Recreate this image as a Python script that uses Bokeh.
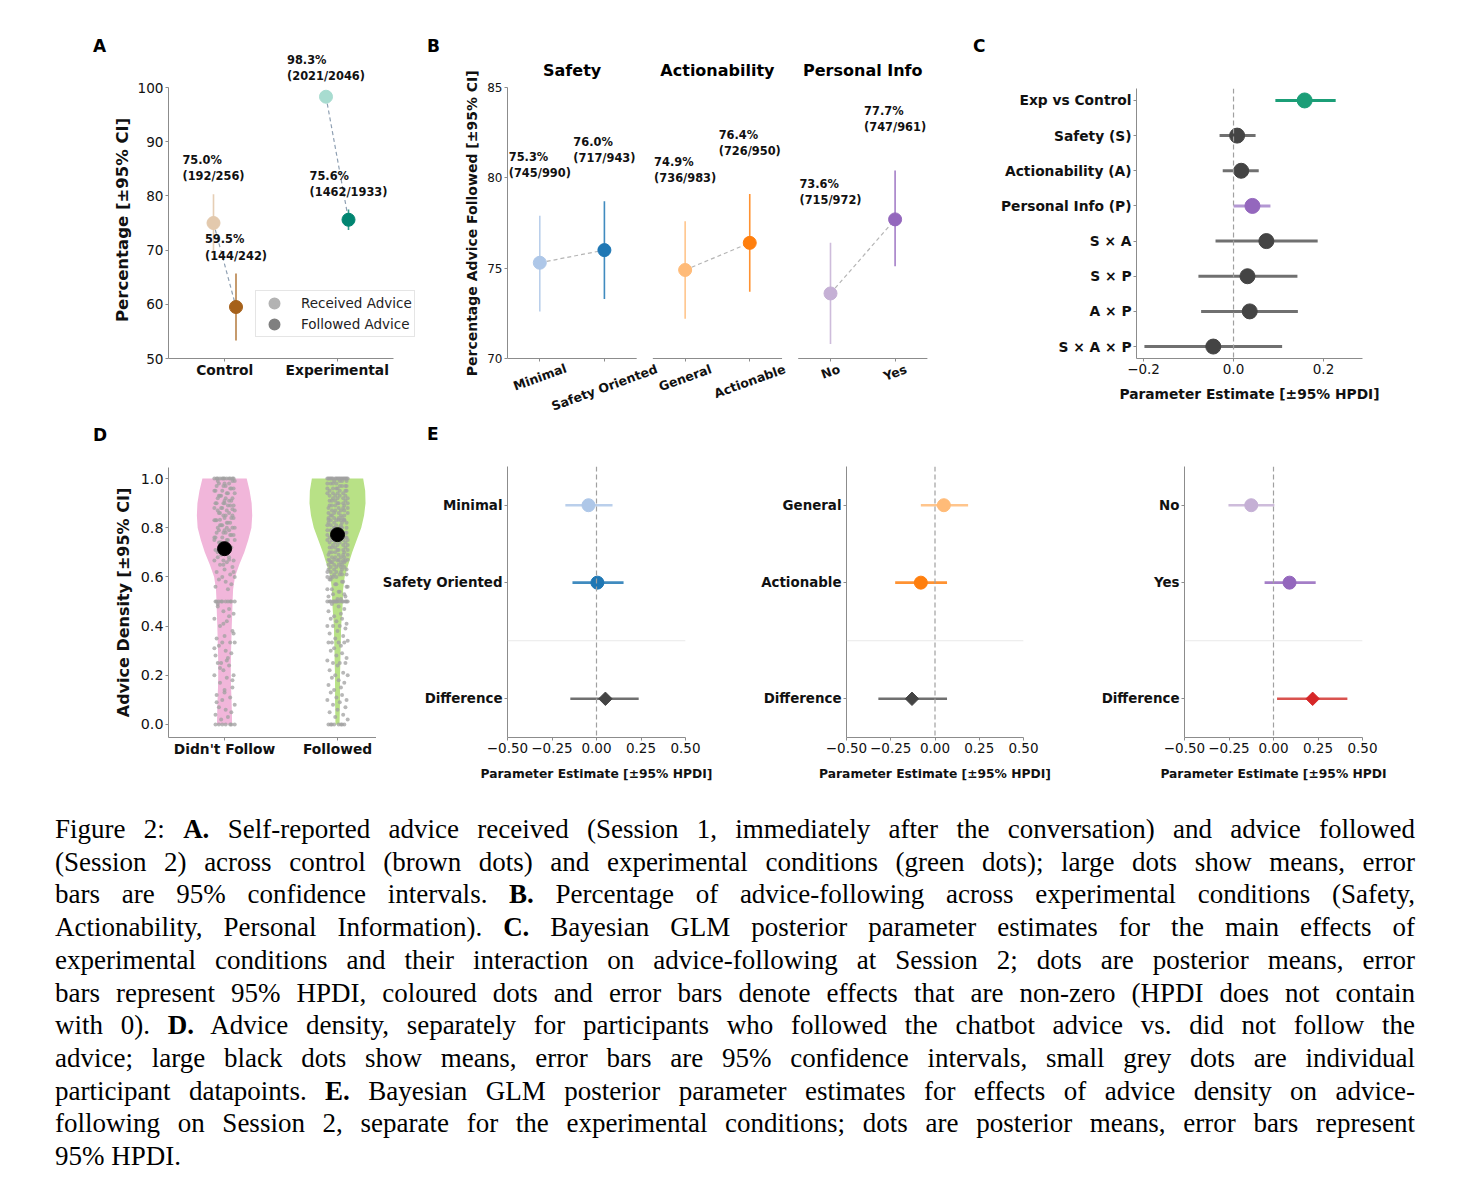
import math
from bokeh.plotting import figure
from bokeh.models import (ColumnDataSource, LabelSet, Label, Span, FixedTicker,
                          Legend, LegendItem, Div, Spacer, Range1d)
from bokeh.core.properties import value
from bokeh.layouts import column, row
from bokeh.embed import file_html
from bokeh.resources import INLINE

# ------------------------------------------------------------------ data
# Panel A
a_conditions = ["Control", "Experimental"]
a_received_pct = [75.0, 98.3]
a_received_lo = [69.7, 97.7]
a_received_hi = [80.3, 98.9]
a_received_n = ["192/256", "2021/2046"]
a_followed_pct = [59.5, 75.6]
a_followed_lo = [53.3, 73.7]
a_followed_hi = [65.7, 77.5]
a_followed_n = ["144/242", "1462/1933"]
a_yticks = [50, 60, 70, 80, 90, 100]
a_legend = ["Received Advice", "Followed Advice"]

# Panel B
b_factors = ["Safety", "Actionability", "Personal Info"]
b_levels = [["Minimal", "Safety Oriented"], ["General", "Actionable"], ["No", "Yes"]]
b_pct = [[75.3, 76.0], [74.9, 76.4], [73.6, 77.7]]
b_lo = [[72.6, 73.3], [72.2, 73.7], [70.8, 75.1]]
b_hi = [[77.9, 78.7], [77.6, 79.1], [76.4, 80.4]]
b_n = [["745/990", "717/943"], ["736/983", "726/950"], ["715/972", "747/961"]]
b_yticks = [70, 75, 80, 85]

# Panel C
c_terms = ["Exp vs Control", "Safety (S)", "Actionability (A)", "Personal Info (P)",
           "S × A", "S × P", "A × P", "S × A × P"]
c_mean = [0.158, 0.008, 0.017, 0.042, 0.073, 0.031, 0.036, -0.045]
c_lo = [0.093, -0.031, -0.024, 0.000, -0.040, -0.078, -0.072, -0.198]
c_hi = [0.227, 0.049, 0.056, 0.082, 0.187, 0.142, 0.143, 0.108]
c_xticks = [-0.2, 0.0, 0.2]

# Panel D
d_groups = ["Didn't Follow", "Followed"]
d_means = [0.715, 0.772]
d_levels = [0.0, 0.05, 0.1, 0.15, 0.2, 0.25, 0.3, 0.35, 0.4, 0.45, 0.5,
            0.55, 0.6, 0.65, 0.7, 0.75, 0.8, 0.85, 0.9, 0.95, 1.0]
d_halfwidth_didnt = [0.067, 0.065, 0.062, 0.058, 0.056, 0.056, 0.058, 0.061, 0.064, 0.068, 0.071,
                     0.076, 0.092, 0.13, 0.175, 0.21, 0.238, 0.245, 0.24, 0.222, 0.196]
d_halfwidth_followed = [0.018, 0.02, 0.022, 0.022, 0.022, 0.025, 0.027, 0.03, 0.032, 0.04, 0.047,
                        0.05, 0.063, 0.095, 0.13, 0.17, 0.21, 0.235, 0.248, 0.245, 0.227]
d_points_didnt = (
    [1.0] * 12
    + [0.99, 0.98, 0.97, 0.96, 0.95, 0.94, 0.93, 0.92, 0.91, 0.90, 0.89, 0.88, 0.87,
       0.86, 0.85, 0.84, 0.83, 0.82, 0.81, 0.80, 0.79, 0.78, 0.77, 0.76, 0.75, 0.74] * 3
    + [0.73, 0.72, 0.71, 0.70, 0.69, 0.68, 0.67, 0.667, 0.667, 0.667, 0.66, 0.65, 0.64,
       0.63, 0.62, 0.61, 0.60, 0.60, 0.59, 0.58, 0.57, 0.56, 0.55, 0.72, 0.70, 0.68, 0.65, 0.62]
    + [0.75, 0.8, 0.833, 0.875, 0.9]
    + [0.5] * 10
    + [0.49, 0.47, 0.46, 0.45, 0.43, 0.42, 0.40, 0.38, 0.36, 0.35, 0.333, 0.333, 0.333,
       0.32, 0.30, 0.29, 0.28, 0.27, 0.25, 0.25, 0.24, 0.22, 0.20, 0.20, 0.19, 0.17,
       0.15, 0.14, 0.12, 0.11, 0.10, 0.08, 0.07, 0.06, 0.05, 0.04, 0.03, 0.02,
       0.48, 0.44, 0.41, 0.37, 0.31, 0.26, 0.23, 0.18, 0.13, 0.09]
    + [0.0] * 7
)
d_points_followed = (
    [1.0] * 18
    + [0.99, 0.98, 0.97, 0.96, 0.95, 0.94, 0.93, 0.92, 0.91, 0.90, 0.89, 0.88, 0.87, 0.86,
       0.85, 0.84, 0.83, 0.82, 0.81, 0.80, 0.79, 0.78, 0.77, 0.76, 0.75, 0.74, 0.73, 0.72,
       0.71, 0.70, 0.69, 0.68, 0.67, 0.66, 0.65, 0.64, 0.63, 0.62, 0.61, 0.60] * 4
    + [0.667] * 4 + [0.75] * 3 + [0.833] * 3 + [0.8] * 2
    + [0.59, 0.58, 0.57, 0.56, 0.55, 0.54, 0.53, 0.52, 0.51] * 2
    + [0.5] * 14
    + [0.49, 0.48, 0.47, 0.46, 0.45, 0.44, 0.43, 0.43, 0.42, 0.41, 0.40, 0.40, 0.40, 0.39,
       0.38, 0.37, 0.36, 0.35, 0.34, 0.333, 0.333, 0.333, 0.333, 0.32, 0.31, 0.30, 0.29,
       0.28, 0.27, 0.26, 0.25, 0.25, 0.25, 0.24, 0.22, 0.21, 0.20, 0.20, 0.19, 0.18, 0.17,
       0.16, 0.15, 0.14, 0.13, 0.12, 0.11, 0.10, 0.10, 0.09, 0.08, 0.07, 0.06, 0.05, 0.04,
       0.03, 0.02]
    + [0.0] * 8
)
d_yticks = [0.0, 0.2, 0.4, 0.6, 0.8, 1.0]

# Panel E
e_levels = [["Minimal", "Safety Oriented"], ["General", "Actionable"], ["No", "Yes"]]
e_mean = [[-0.045, 0.005], [0.05, -0.08], [-0.125, 0.09]]
e_lo = [[-0.175, -0.135], [-0.08, -0.225], [-0.253, -0.05]]
e_hi = [[0.09, 0.152], [0.187, 0.068], [0.005, 0.237]]
e_diff_label = "Difference"
e_diff_mean = [0.05, -0.13, 0.22]
e_diff_lo = [-0.147, -0.32, 0.02]
e_diff_hi = [0.237, 0.068, 0.415]
e_xticks = [-0.5, -0.25, 0.0, 0.25, 0.5]
e_xlabels = ["Parameter Estimate [±95% HPDI]", "Parameter Estimate [±95% HPDI]",
             "Parameter Estimate [±95% HPDI"]

panel_letters = ["A", "B", "C", "D", "E"]

caption_lines = [
    "Figure 2: <b>A.</b> Self-reported advice received (Session 1, immediately after the conversation) and advice followed",
    "(Session 2) across control (brown dots) and experimental conditions (green dots); large dots show means, error",
    "bars are 95% confidence intervals. <b>B.</b> Percentage of advice-following across experimental conditions (Safety,",
    "Actionability, Personal Information). <b>C.</b> Bayesian GLM posterior parameter estimates for the main effects of",
    "experimental conditions and their interaction on advice-following at Session 2; dots are posterior means, error",
    "bars represent 95% HPDI, coloured dots and error bars denote effects that are non-zero (HPDI does not contain",
    "with 0). <b>D.</b> Advice density, separately for participants who followed the chatbot advice vs. did not follow the",
    "advice; large black dots show means, error bars are 95% confidence intervals, small grey dots are individual",
    "participant datapoints. <b>E.</b> Bayesian GLM posterior parameter estimates for effects of advice density on advice-",
    "following on Session 2, separate for the experimental conditions; dots are posterior means, error bars represent",
    "95% HPDI.",
]

# ------------------------------------------------------------------ style
FONT = "DejaVu Sans"
AXC = "#8c8c8c"
TC = "#111111"
a_rec_colors = ["#e3c9ad", "#a8dcd0"]
a_fol_colors = ["#a6611a", "#018571"]
b_colors = [["#aec7e8", "#1f77b4"], ["#ffbb78", "#ff7f0e"], ["#c5b0d5", "#9467bd"]]
c_dot_colors = ["#1b9e77", "#444444", "#444444", "#9467bd", "#444444", "#444444", "#444444", "#444444"]
c_line_colors = ["#1b9e77", "#707070", "#707070", "#b397d3", "#707070", "#707070", "#707070", "#707070"]
e_diff_colors = ["#444444", "#444444", "#d62728"]
e_diff_line_colors = ["#707070", "#707070", "#d9534f"]
d_violin_colors = ["#f1b6da", "#b8e186"]
d_jitter = [-0.06, 0.04, -0.01, 0.08, -0.09, 0.02, -0.04, 0.07, 0.0, -0.07,
            0.05, -0.02, 0.09, -0.05, 0.01, 0.06, -0.08, 0.03, -0.03]

BOLD_W = {"M": .995, "i": .343, "n": .712, "a": .675, "l": .343, "S": .72, "f": .435,
          "e": .678, "t": .478, "y": .652, " ": .348, "O": .85, "r": .493, "d": .716,
          "G": .822, "c": .593, "o": .687, "b": .716, "A": .774, "N": .837, "Y": .724,
          "s": .595}
SPACE_EM = 0.348
NBSP = "\u00a0"


def minus(s):
    return s.replace("-", "\u2212")


def centred_label(text, font_px, shift_px):
    """Pad a vertical axis label so that it centres on the drawn spine rather than the
    (taller) frame: positive shift moves the text down, negative moves it up."""
    n = int(round(2 * abs(shift_px) / (SPACE_EM * font_px)))
    return text + NBSP * n if shift_px > 0 else NBSP * n + text


def base_fig(w, h, xr, yr, l, r, t, b):
    p = figure(width=w, height=h, x_range=xr, y_range=yr, output_backend="svg",
               toolbar_location=None, title=None, min_border_left=l, min_border_right=r,
               min_border_top=t, min_border_bottom=b)
    p.outline_line_color = None
    p.xgrid.visible = False
    p.ygrid.visible = False
    p.background_fill_color = "white"
    p.border_fill_color = "white"
    for ax in p.axis:
        ax.axis_line_color = AXC
        ax.axis_line_width = 1
        ax.major_tick_line_color = AXC
        ax.major_tick_out = 3
        ax.major_tick_in = 0
        ax.minor_tick_line_color = None
        ax.major_label_text_font = FONT
        ax.major_label_text_color = TC
        ax.major_label_standoff = 2
        ax.axis_label_text_font = FONT
        ax.axis_label_text_font_style = "bold"
        ax.axis_label_text_color = TC
    return p


def header(width, height, letter, left, top):
    html = (f'<div style="position:relative;width:{width}px;height:{height}px;">'
            f'<span style="position:absolute;left:{left}px;top:{top}px;font-family:\'DejaVu Sans\';'
            f'font-weight:bold;font-size:17px;line-height:17px;color:#000;">{letter}</span></div>')
    return Div(text=html, width=width, height=height, margin=0)


def value_labels(p, xs, ys, texts):
    src = ColumnDataSource(dict(x=xs, y=ys, text=texts))
    p.add_layout(LabelSet(x="x", y="y", text="text", source=src, text_align="center",
                          text_baseline="bottom", text_font=value(FONT), text_font_size="11.4px",
                          text_font_style="bold", text_color=TC, text_line_height=1.15))


HDR1 = 44   # page y 8 -> 52
HDR2 = 24   # page y 420 -> 444
ROW1_FIG_H = 412 - HDR1
ROW2_FIG_H = 370 - HDR2

# ------------------------------------------------------------------ panel A
A_PPU_Y = 271 / 50.0
A_PPU_X = 112.5
A_TOP_EXTRA = 35      # frame reaches 35 px above the 100 line
pA = base_fig(417, ROW1_FIG_H, Range1d(-0.5, -0.5 + 257 / A_PPU_X),
              Range1d(50, 100 + A_TOP_EXTRA / A_PPU_Y), 160, 0, 0, 62)
pA.yaxis.ticker = FixedTicker(ticks=a_yticks)
pA.yaxis.bounds = (a_yticks[0], a_yticks[-1])
pA.yaxis.major_label_text_font_size = "13.6px"
pA.yaxis.axis_label = centred_label("Percentage [±95% CI]", 16.5, A_TOP_EXTRA / 2 - 3)
pA.yaxis.axis_label_text_font_size = "16.5px"
pA.yaxis.axis_label_standoff = 3
xi = list(range(len(a_conditions)))
pA.xaxis.ticker = FixedTicker(ticks=xi)
pA.xaxis.bounds = (-0.5, len(a_conditions) - 0.5)
pA.xaxis.major_label_overrides = {i: c for i, c in zip(xi, a_conditions)}
pA.xaxis.major_label_text_font_size = "13.8px"
pA.xaxis.major_label_text_font_style = "bold"
pA.xaxis.major_label_standoff = 0

x_rec = [i - 0.1 for i in xi]
x_fol = [i + 0.1 for i in xi]
pA.segment(x_rec, a_received_lo, x_rec, a_received_hi, line_color=a_rec_colors, line_width=1.6, line_alpha=0.9)
pA.segment(x_fol, a_followed_lo, x_fol, a_followed_hi, line_color=a_fol_colors, line_width=1.6, line_alpha=0.8)
pA.segment(x_rec, a_received_pct, x_fol, a_followed_pct, line_color="#8e9fb2", line_dash="4 3", line_width=1.2)
pA.scatter(x_rec, a_received_pct, size=13, color=a_rec_colors)
pA.scatter(x_fol, a_followed_pct, size=13, color=a_fol_colors)
value_labels(pA, x_rec + x_fol, [h + 2 for h in a_received_hi + a_followed_hi],
             [f"{v:.1f}%\n({n})" for v, n in zip(a_received_pct + a_followed_pct, a_received_n + a_followed_n)])
# legend swatches (no data points of their own)
r1 = pA.scatter([math.nan], [math.nan], size=8, fill_color="#b3b3b3", line_color="#b3b3b3", line_width=4)
r2 = pA.scatter([math.nan], [math.nan], size=8, fill_color="#808080", line_color="#808080", line_width=4)
legA = Legend(items=[LegendItem(label=a_legend[0], renderers=[r1]),
                     LegendItem(label=a_legend[1], renderers=[r2])],
              location=(87, 21), orientation="vertical")
legA.label_text_font = FONT
legA.label_text_font_size = "13.5px"
legA.label_text_color = "#222222"
legA.border_line_color = "#cccccc"
legA.border_line_width = 1
legA.background_fill_alpha = 0.85
legA.padding = 2
legA.margin = 0
legA.glyph_width = 32
legA.glyph_height = 20
legA.label_height = 20
legA.spacing = 1
legA.label_standoff = 11
pA.add_layout(legA)

# ------------------------------------------------------------------ panel B
gap = 2.25
B_PPU_Y = 271 / 15.0
B_PPU_X = 64.6
B_TOP_EXTRA = 29
B_BOTTOM_EXTRA = 54
b_x = [[g * gap + k for k in range(2)] for g in range(len(b_factors))]
pB = base_fig(535, ROW1_FIG_H, Range1d(-0.5, -0.5 + 453 / B_PPU_X),
              Range1d(b_yticks[0] - B_BOTTOM_EXTRA / B_PPU_Y, b_yticks[-1] + B_TOP_EXTRA / B_PPU_Y),
              82, 0, 6, 8)
pB.yaxis.ticker = FixedTicker(ticks=b_yticks)
pB.yaxis.bounds = (b_yticks[0], b_yticks[-1])
pB.yaxis.major_label_text_font_size = "12px"
pB.yaxis.axis_label = centred_label("Percentage Advice Followed [±95% CI]", 14,
                                    (B_TOP_EXTRA - B_BOTTOM_EXTRA) / 2)
pB.yaxis.axis_label_text_font_size = "14px"
pB.yaxis.axis_label_standoff = 4
flat_bx = [x for g in b_x for x in g]
pB.xaxis.ticker = FixedTicker(ticks=flat_bx)
pB.xaxis.fixed_location = b_yticks[0]
pB.xaxis.axis_line_color = None
pB.xaxis.major_label_text_color = None
pB.xaxis.major_label_standoff = 0
pB.segment([g[0] - 0.5 for g in b_x], [b_yticks[0]] * 3, [g[1] + 0.5 for g in b_x], [b_yticks[0]] * 3,
           line_color=AXC, line_width=1)
theta = math.radians(20)
fsB = 12.5
for g in range(len(b_factors)):
    xs = b_x[g]
    pB.segment(xs, b_lo[g], xs, b_hi[g], line_color=b_colors[g], line_width=1.6, line_alpha=0.85)
    pB.line(xs, b_pct[g], line_color="#b5b5b5", line_dash="4 3", line_width=1.2)
    pB.scatter(xs, b_pct[g], size=13, color=b_colors[g])
    value_labels(pB, xs, [h + 2 for h in b_hi[g]],
                 [f"{v:.1f}%\n({n})" for v, n in zip(b_pct[g], b_n[g])])
    pB.add_layout(Label(x=(xs[0] + xs[1]) / 2, y=b_yticks[-1] + 17 / B_PPU_Y, text=b_factors[g],
                        text_font=FONT, text_font_size="16px", text_font_style="bold", text_color="black",
                        text_align="center", text_baseline="middle"))
    for x, lab in zip(xs, b_levels[g]):
        w = fsB * sum(BOLD_W.get(ch, 0.65) for ch in lab)
        off = 3 + 0.5 * (w * math.sin(theta) + 1.16 * fsB * math.cos(theta))
        pB.add_layout(Label(x=x, y=b_yticks[0] - off / B_PPU_Y, text=lab,
                            angle=20, angle_units="deg", text_font=FONT, text_font_size=f"{fsB}px",
                            text_font_style="bold", text_color=TC, text_align="center",
                            text_baseline="middle"))

# ------------------------------------------------------------------ panel C
pC = base_fig(440, ROW1_FIG_H, Range1d(-0.2156, 0.2866), Range1d(7.34, -0.34), 176, 38, 36, 62)
yi = list(range(len(c_terms)))
pC.yaxis.ticker = FixedTicker(ticks=yi)
pC.yaxis.major_label_overrides = {i: t for i, t in zip(yi, c_terms)}
pC.yaxis.major_label_text_font_size = "13.8px"
pC.yaxis.major_label_text_font_style = "bold"
pC.xaxis.ticker = FixedTicker(ticks=c_xticks)
pC.xaxis.major_label_overrides = {t: minus(f"{t:.1f}") for t in c_xticks}
pC.xaxis.major_label_text_font_size = "13.5px"
pC.xaxis.axis_label = "Parameter Estimate [±95% HPDI]"
pC.xaxis.axis_label_text_font_size = "13.8px"
pC.xaxis.axis_label_standoff = 9
pC.add_layout(Span(location=0, dimension="height", line_color="#a0a0a0", line_dash="5 3", line_width=1.2))
pC.segment(c_lo, yi, c_hi, yi, line_color=c_line_colors, line_width=3)
pC.scatter(c_mean, yi, size=15, color=c_dot_colors)

# ------------------------------------------------------------------ panel D
pD = base_fig(368, ROW2_FIG_H, Range1d(-0.496, 1.345), Range1d(-0.053, 1.045), 160, 0, 23, 53)
pD.yaxis.ticker = FixedTicker(ticks=d_yticks)
pD.yaxis.major_label_overrides = {t: f"{t:.1f}" for t in d_yticks}
pD.yaxis.major_label_text_font_size = "14.3px"
pD.yaxis.axis_label = "Advice Density [±95% CI]"
pD.yaxis.axis_label_text_font_size = "16px"
pD.yaxis.axis_label_standoff = 5
dx = list(range(len(d_groups)))
pD.xaxis.ticker = FixedTicker(ticks=dx)
pD.xaxis.major_label_overrides = {i: g for i, g in zip(dx, d_groups)}
pD.xaxis.major_label_text_font_size = "13.8px"
pD.xaxis.major_label_text_font_style = "bold"
pD.xaxis.major_label_standoff = 0
for c, hw, col, pts in zip(dx, [d_halfwidth_didnt, d_halfwidth_followed], d_violin_colors,
                           [d_points_didnt, d_points_followed]):
    vx = [c + w for w in hw] + [c - w for w in reversed(hw)]
    vy = d_levels + list(reversed(d_levels))
    pD.patch(vx, vy, fill_color=col, line_color=None)
    px = [c + d_jitter[k % len(d_jitter)] for k in range(len(pts))]
    pD.scatter(px, pts, size=4, fill_color="#a0a0a0", line_color=None, fill_alpha=0.75)
pD.scatter(dx, d_means, size=14, color="black")

# ------------------------------------------------------------------ panel E
e_sizes = [(349, 131, 40), (335, 121, 37), (340, 124, 38)]
diff_row = 2.5
sep_row = 1.75
pE = []
for g in range(len(e_levels)):
    w, l, r = e_sizes[g]
    p = base_fig(w, ROW2_FIG_H, Range1d(-0.5, 0.5), Range1d(3.0, -0.5), l, r, 22, 53)
    rows = [0, 1]
    p.yaxis.ticker = FixedTicker(ticks=rows + [diff_row])
    p.yaxis.major_label_overrides = {0: e_levels[g][0], 1: e_levels[g][1], diff_row: e_diff_label}
    p.yaxis.major_label_text_font_size = "13.4px"
    p.yaxis.major_label_text_font_style = "bold"
    p.xaxis.ticker = FixedTicker(ticks=e_xticks)
    p.xaxis.major_label_overrides = {t: minus(f"{t:.2f}") for t in e_xticks}
    p.xaxis.major_label_text_font_size = "13.5px"
    p.xaxis.axis_label = e_xlabels[g]
    p.xaxis.axis_label_text_font_size = "12.3px"
    p.xaxis.axis_label_standoff = 11
    p.add_layout(Span(location=0, dimension="height", line_color="#a0a0a0", line_dash="5 3", line_width=1.2))
    p.add_layout(Span(location=sep_row, dimension="width", line_color="#e3e3e3", line_width=0.8))
    p.segment(e_lo[g], rows, e_hi[g], rows, line_color=b_colors[g], line_width=2.6, line_alpha=0.85)
    p.scatter(e_mean[g], rows, size=13, color=b_colors[g])
    p.segment([e_diff_lo[g]], [diff_row], [e_diff_hi[g]], [diff_row], line_color=e_diff_line_colors[g],
              line_width=2.6)
    p.scatter([e_diff_mean[g]], [diff_row], marker="square", size=9.5, angle=math.pi / 4,
              color=e_diff_colors[g])
    pE.append(p)

# ------------------------------------------------------------------ caption
line_html = []
for k, ln in enumerate(caption_lines):
    last = k == len(caption_lines) - 1
    align = "text-align:left;" if last else "text-align:justify;text-align-last:justify;"
    line_html.append(f'<div style="{align}">{ln}</div>')
caption = Div(text=('<div style="font-family:\'Liberation Serif\',serif;font-size:27px;'
                    'line-height:32.7px;color:#000;width:1360px;">' + "".join(line_html) + "</div>"),
              width=1360, margin=0)

row1 = row(column(header(417, HDR1, panel_letters[0], 85, 30), pA),
           column(header(535, HDR1, panel_letters[1], 2, 30), pB),
           column(header(440, HDR1, panel_letters[2], 13, 30), pC))
row2 = row(column(header(368, HDR2, panel_letters[3], 85, 7), pD),
           column(header(1024, HDR2, panel_letters[4], 51, 6), row(*pE)))

layout = column(
    Spacer(height=8),
    row(Spacer(width=8),
        column(row1, row2, Spacer(height=23), row(Spacer(width=47), caption))),
)

open("out.html", "w").write(file_html(layout, INLINE))
